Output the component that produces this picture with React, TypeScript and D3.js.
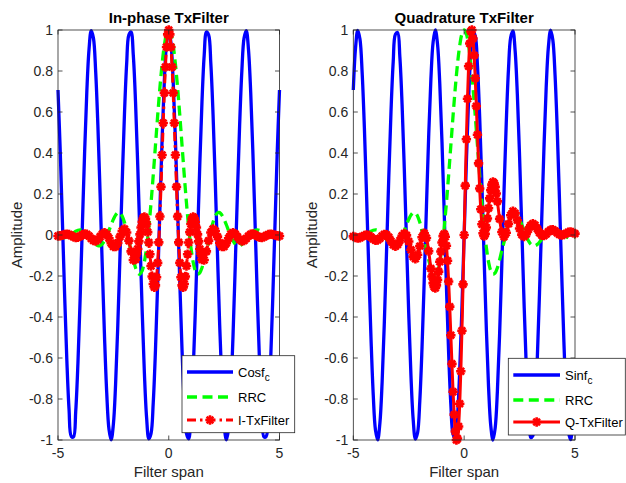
import React from "react";
import * as d3 from "d3";

// ---- data ----
// sample positions of the carrier and RRC curves
const spanT = [
  -5.0, -4.9, -4.8, -4.7, -4.6, -4.5, -4.4, -4.3, -4.2, -4.1,
  -4.0, -3.9, -3.8, -3.7, -3.6, -3.5, -3.4, -3.3, -3.2, -3.1,
  -3.0, -2.9, -2.8, -2.7, -2.6, -2.5, -2.4, -2.3, -2.2, -2.1,
  -2.0, -1.9, -1.8, -1.7, -1.6, -1.5, -1.4, -1.3, -1.2, -1.1,
  -1.0, -0.9, -0.8, -0.7, -0.6, -0.5, -0.4, -0.3, -0.2, -0.1,
  0.0,
  0.1, 0.2, 0.3, 0.4, 0.5, 0.6, 0.7, 0.8, 0.9, 1.0,
  1.1, 1.2, 1.3, 1.4, 1.5, 1.6, 1.7, 1.8, 1.9, 2.0,
  2.1, 2.2, 2.3, 2.4, 2.5, 2.6, 2.7, 2.8, 2.9, 3.0,
  3.1, 3.2, 3.3, 3.4, 3.5, 3.6, 3.7, 3.8, 3.9, 4.0,
  4.1, 4.2, 4.3, 4.4, 4.5, 4.6, 4.7, 4.8, 4.9, 5.0,
];

const cosFc = [
  0.7071, 0.4115, 0.0628, -0.294, -0.6129, -0.8526, -0.9823, -0.9851, -0.8607, -0.6252,
  -0.309, 0.0471, 0.3971, 0.6959, 0.9048, 0.9969, 0.9603, 0.7997, 0.5358, 0.2028,
  -0.1564, -0.4955, -0.7705, -0.9461, -0.9995, -0.9239, -0.729, -0.4399, -0.0941, 0.2639,
  0.5878, 0.8358, 0.9759, 0.99, 0.8763, 0.6494, 0.3387, -0.0157, -0.3681, -0.673,
  -0.891, -0.994, -0.9686, -0.8181, -0.5621, -0.2334, 0.1253, 0.4679, 0.7501, 0.9354,
  1.0,
  0.9354, 0.7501, 0.4679, 0.1253, -0.2334, -0.5621, -0.8181, -0.9686, -0.994, -0.891,
  -0.673, -0.3681, -0.0157, 0.3387, 0.6494, 0.8763, 0.99, 0.9759, 0.8358, 0.5878,
  0.2639, -0.0941, -0.4399, -0.729, -0.9239, -0.9995, -0.9461, -0.7705, -0.4955, -0.1564,
  0.2028, 0.5358, 0.7997, 0.9603, 0.9969, 0.9048, 0.6959, 0.3971, 0.0471, -0.309,
  -0.6252, -0.8607, -0.9851, -0.9823, -0.8526, -0.6129, -0.294, 0.0628, 0.4115, 0.7071,
];

const sinFc = [
  0.7071, 0.9114, 0.998, 0.9558, 0.7902, 0.5225, 0.1874, -0.1719, -0.509, -0.7804,
  -0.9511, -0.9989, -0.9178, -0.7181, -0.4258, -0.0785, 0.279, 0.6004, 0.8443, 0.9792,
  0.9877, 0.8686, 0.6374, 0.3239, -0.0314, -0.3827, -0.6845, -0.898, -0.9956, -0.9646,
  -0.809, -0.549, -0.2181, 0.1409, 0.4818, 0.7604, 0.9409, 0.9999, 0.9298, 0.7396,
  0.454, 0.1097, -0.2487, -0.575, -0.8271, -0.9724, -0.9921, -0.8838, -0.6613, -0.3535,
  0.0,
  0.3535, 0.6613, 0.8838, 0.9921, 0.9724, 0.8271, 0.575, 0.2487, -0.1097, -0.454,
  -0.7396, -0.9298, -0.9999, -0.9409, -0.7604, -0.4818, -0.1409, 0.2181, 0.549, 0.809,
  0.9646, 0.9956, 0.898, 0.6845, 0.3827, 0.0314, -0.3239, -0.6374, -0.8686, -0.9877,
  -0.9792, -0.8443, -0.6004, -0.279, 0.0785, 0.4258, 0.7181, 0.9178, 0.9989, 0.9511,
  0.7804, 0.509, 0.1719, -0.1874, -0.5225, -0.7902, -0.9558, -0.998, -0.9114, -0.7071,
];

const rrcPulse = [
  -0.009, -0.012, -0.014, -0.013, -0.009, -0.003, 0.004, 0.011, 0.018, 0.023,
  0.025, 0.023, 0.016, 0.006, -0.007, -0.021, -0.035, -0.046, -0.052, -0.052,
  -0.044, -0.028, -0.006, 0.021, 0.05, 0.076, 0.097, 0.109, 0.108, 0.092,
  0.062, 0.018, -0.035, -0.0751, -0.1208, -0.1594, -0.1848, -0.1913, -0.1744, -0.1309,
  -0.0601, 0.0368, 0.1563, 0.2923, 0.4372, 0.582, 0.7174, 0.834, 0.924, 0.9806,
  1.0,
  0.9806, 0.924, 0.834, 0.7174, 0.582, 0.4372, 0.2923, 0.1563, 0.0368, -0.0601,
  -0.1309, -0.1744, -0.1913, -0.1848, -0.1594, -0.1208, -0.0751, -0.035, 0.018, 0.062,
  0.092, 0.108, 0.109, 0.097, 0.076, 0.05, 0.021, -0.006, -0.028, -0.044,
  -0.052, -0.052, -0.046, -0.035, -0.021, -0.007, 0.006, 0.016, 0.023, 0.025,
  0.023, 0.018, 0.011, 0.004, -0.003, -0.009, -0.013, -0.014, -0.012, -0.009,
];

// sample positions of the filtered (red) curves: denser around the main lobe
const txT = [
  -5.0, -4.9, -4.8, -4.7, -4.6, -4.5, -4.4, -4.3, -4.2, -4.1,
  -4.0, -3.9, -3.8, -3.7, -3.6, -3.5, -3.4, -3.3, -3.2, -3.1,
  -3.0, -2.9, -2.8, -2.7, -2.6, -2.5, -2.4, -2.3, -2.2, -2.1,
  -2.0, -1.9, -1.8, -1.7, -1.6, -1.5,
  -1.45, -1.4, -1.35, -1.3, -1.25, -1.2, -1.15, -1.1, -1.05, -1.0,
  -0.95, -0.9, -0.85, -0.8, -0.75, -0.7, -0.65, -0.6, -0.55, -0.5,
  -0.45, -0.4, -0.35, -0.3, -0.25, -0.2, -0.15, -0.1, -0.05,
  0.0,
  0.05, 0.1, 0.15, 0.2, 0.25, 0.3, 0.35, 0.4, 0.45, 0.5,
  0.55, 0.6, 0.65, 0.7, 0.75, 0.8, 0.85, 0.9, 0.95, 1.0,
  1.05, 1.1, 1.15, 1.2, 1.25, 1.3, 1.35, 1.4, 1.45,
  1.5, 1.6, 1.7, 1.8, 1.9, 2.0,
  2.1, 2.2, 2.3, 2.4, 2.5, 2.6, 2.7, 2.8, 2.9, 3.0,
  3.1, 3.2, 3.3, 3.4, 3.5, 3.6, 3.7, 3.8, 3.9, 4.0,
  4.1, 4.2, 4.3, 4.4, 4.5, 4.6, 4.7, 4.8, 4.9, 5.0,
];

const iTxFilter = [
  -0.0049, -0.004, -0.0007, 0.003, 0.0045, 0.0023, -0.0029, -0.009, -0.0126, -0.0116,
  -0.0061, 0.0009, 0.0052, 0.0034, -0.0051, -0.017, -0.027, -0.0295, -0.0224, -0.0084,
  0.0055, 0.0112, 0.0037, -0.0159, -0.0397, -0.0565, -0.0568, -0.0383, -0.0081, 0.0195,
  0.0292, 0.0123, -0.0275, -0.08, -0.122, -0.12,
  -0.092, -0.068, -0.031, 0.003, 0.0363, 0.0642, 0.0826, 0.0881, 0.0785, 0.0535,
  0.0142, -0.0366, -0.0938, -0.1514, -0.2022, -0.2391, -0.2554, -0.2458, -0.2063, -0.1358,
  -0.0358, 0.0899, 0.2348, 0.3902, 0.5466, 0.6931, 0.8196, 0.9173, 0.9785,
  1.0,
  0.9785, 0.9173, 0.8196, 0.6931, 0.5466, 0.3902, 0.2348, 0.0899, -0.0358, -0.1358,
  -0.2063, -0.2458, -0.2554, -0.2391, -0.2022, -0.1514, -0.0938, -0.0366, 0.0142, 0.0535,
  0.0785, 0.0881, 0.0826, 0.0642, 0.0363, 0.003, -0.031, -0.068, -0.092,
  -0.12, -0.122, -0.08, -0.0275, 0.0123, 0.0292,
  0.0195, -0.0081, -0.0383, -0.0568, -0.0565, -0.0397, -0.0159, 0.0037, 0.0112, 0.0055,
  -0.0084, -0.0224, -0.0295, -0.027, -0.017, -0.0051, 0.0034, 0.0052, 0.0009, -0.0061,
  -0.0116, -0.0126, -0.009, -0.0029, 0.0023, 0.0045, 0.003, -0.0007, -0.004, -0.0049,
];

const qTxFilter = [
  -0.0067, -0.0119, -0.0146, -0.0131, -0.0078, -0.0019, 0.0008, -0.0021, -0.01, -0.0195,
  -0.0256, -0.0244, -0.0161, -0.0048, 0.0032, 0.0018, -0.0106, -0.0299, -0.0477, -0.0549,
  -0.0468, -0.0265, -0.0041, 0.0074, -0.0017, -0.0316, -0.0721, -0.1057, -0.1161, -0.0963,
  -0.0543, -0.0109, 0.0083, -0.0143, -0.0786, -0.1638,
  -0.2027, -0.235, -0.2534, -0.2585, -0.2457, -0.2191, -0.1785, -0.1308, -0.0808, -0.0369,
  -0.0057, 0.0055, -0.0089, -0.0525, -0.1255, -0.2271, -0.3495, -0.4887, -0.6285, -0.7648,
  -0.8762, -0.9587, -1.0, -0.9929, -0.9339, -0.823, -0.6647, -0.4669, -0.2407,
  0.0,
  0.2407, 0.4669, 0.6647, 0.823, 0.9339, 0.9929, 1.0, 0.9587, 0.8762, 0.7648,
  0.6285, 0.4887, 0.3495, 0.2271, 0.1255, 0.0525, 0.0089, -0.0055, 0.0057, 0.0369,
  0.0808, 0.1308, 0.1785, 0.2191, 0.2457, 0.2585, 0.2534, 0.235, 0.2027,
  0.1638, 0.0786, 0.0143, -0.0083, 0.0109, 0.0543,
  0.0963, 0.1161, 0.1057, 0.0721, 0.0316, 0.0017, -0.0074, 0.0041, 0.0265, 0.0468,
  0.0549, 0.0477, 0.0299, 0.0106, -0.0018, -0.0032, 0.0048, 0.0161, 0.0244, 0.0256,
  0.0195, 0.01, 0.0021, -0.0008, 0.0019, 0.0078, 0.0131, 0.0146, 0.0119, 0.0067,
];

const yTicks = [-1, -0.8, -0.6, -0.4, -0.2, 0, 0.2, 0.4, 0.6, 0.8, 1];
const yTickLabels = ["-1", "-0.8", "-0.6", "-0.4", "-0.2", "0", "0.2", "0.4", "0.6", "0.8", "1"];
const xTicks = [-5, 0, 5];
const xTickLabels = ["-5", "0", "5"];
const panelTitles = ["In-phase TxFilter", "Quadrature TxFilter"];
const carrierNames = ["Cosf", "Sinf"];
const filterNames = ["I-TxFilter", "Q-TxFilter"];
const rrcName = "RRC";
const xLabelText = "Filter span";
const yLabelText = "Amplitude";

// ---- layout / style ----
const W = 626;
const H = 483;
const FONT = "'Liberation Sans', Arial, Helvetica, sans-serif";
const AX = "#262626";
const TOP = 30;
const BOTTOM = 440;
const BLUE = "#0000ff";
const GREEN = "#00ff00";
const RED = "#ff0000";

const panels = [
  {
    left: 58,
    right: 279.5,
    carrier: cosFc,
    filtered: iTxFilter,
    redDash: "9,4,2.5,4",
    legend: { x0: 182, x1: 294.7, y0: 355.7, y1: 432.7, lx0: 187, lx1: 233, tx: 238, rows: [372, 397, 420] },
  },
  {
    left: 353.3,
    right: 575,
    carrier: sinFc,
    filtered: qTxFilter,
    redDash: null as string | null,
    legend: { x0: 508.3, x1: 625.3, y0: 358.3, y1: 435, lx0: 513.3, lx1: 560, tx: 565, rows: [375, 400, 422] },
  },
];

function asterisk(r: number) {
  const d = r * 0.7071;
  return `M${-r},0L${r},0M0,${-r}L0,${r}M${-d},${-d}L${d},${d}M${-d},${d}L${d},${-d}`;
}

const MARK = asterisk(4.7);
const MARK_W = 2.6;

function Panel({ idx }: { idx: number }) {
  const p = panels[idx];
  const x = d3.scaleLinear().domain([-5, 5]).range([p.left, p.right]);
  const y = d3.scaleLinear().domain([-1, 1]).range([BOTTOM, TOP]);
  const mk = (ts: number[], arr: number[]) =>
    d3
      .line<number>()
      .x((_, i) => x(ts[i]))
      .y((v) => y(v))
      .curve(d3.curveCatmullRom.alpha(0.5))(arr) || "";
  const cx = (p.left + p.right) / 2;
  const cy = (TOP + BOTTOM) / 2;
  const tickLen = 4.5;
  const lg = p.legend;
  const mid = (lg.lx0 + lg.lx1) / 2;
  return (
    <g>
      <rect x={p.left} y={TOP} width={p.right - p.left} height={BOTTOM - TOP} fill="#fff" stroke="none" />
      {/* data */}
      <path d={mk(spanT, p.carrier)} fill="none" stroke={BLUE} strokeWidth={3.3} strokeLinejoin="round" />
      <path d={mk(spanT, rrcPulse)} fill="none" stroke={GREEN} strokeWidth={3.3} strokeDasharray="10,5.5" />
      <path
        d={mk(txT, p.filtered)}
        fill="none"
        stroke={RED}
        strokeWidth={3}
        strokeDasharray={p.redDash || undefined}
        strokeLinejoin="round"
      />
      {p.filtered.map((v, i) => (
        <path
          key={i}
          d={MARK}
          transform={`translate(${x(txT[i])},${y(v)})`}
          stroke={RED}
          strokeWidth={MARK_W}
          fill="none"
        />
      ))}
      {/* axes */}
      <rect x={p.left} y={TOP} width={p.right - p.left} height={BOTTOM - TOP} fill="none" stroke={AX} strokeWidth={0.8} />
      {yTicks.map((t, i) => (
        <g key={"y" + i}>
          <line x1={p.left} x2={p.left + tickLen} y1={y(t)} y2={y(t)} stroke={AX} strokeWidth={0.8} />
          <line x1={p.right} x2={p.right - tickLen} y1={y(t)} y2={y(t)} stroke={AX} strokeWidth={0.8} />
          <text x={p.left - 5} y={y(t) + 5} textAnchor="end" fontSize={14} fill={AX} fontFamily={FONT}>
            {yTickLabels[i]}
          </text>
        </g>
      ))}
      {xTicks.map((t, i) => (
        <g key={"x" + i}>
          <line x1={x(t)} x2={x(t)} y1={BOTTOM} y2={BOTTOM - tickLen} stroke={AX} strokeWidth={0.8} />
          <line x1={x(t)} x2={x(t)} y1={TOP} y2={TOP + tickLen} stroke={AX} strokeWidth={0.8} />
          <text x={x(t)} y={458} textAnchor="middle" fontSize={14} fill={AX} fontFamily={FONT}>
            {xTickLabels[i]}
          </text>
        </g>
      ))}
      <text x={cx} y={22.5} textAnchor="middle" fontSize={15} fontWeight="bold" fill="#000" fontFamily={FONT}>
        {panelTitles[idx]}
      </text>
      <text x={cx} y={477} textAnchor="middle" fontSize={15} fill={AX} fontFamily={FONT}>
        {xLabelText}
      </text>
      <text
        transform={`translate(${p.left - 36},${cy}) rotate(-90)`}
        textAnchor="middle"
        fontSize={15}
        fill={AX}
        fontFamily={FONT}
      >
        {yLabelText}
      </text>
      {/* legend */}
      <rect x={lg.x0} y={lg.y0} width={lg.x1 - lg.x0} height={lg.y1 - lg.y0} fill="#fff" stroke={AX} strokeWidth={0.8} />
      <line x1={lg.lx0} x2={lg.lx1} y1={lg.rows[0]} y2={lg.rows[0]} stroke={BLUE} strokeWidth={3.3} />
      <text x={lg.tx} y={lg.rows[0] + 5} fontSize={13} fill="#000" fontFamily={FONT}>
        {carrierNames[idx]}
        <tspan dy={4} fontSize={10}>
          c
        </tspan>
      </text>
      <line x1={lg.lx0} x2={lg.lx1} y1={lg.rows[1]} y2={lg.rows[1]} stroke={GREEN} strokeWidth={3.3} strokeDasharray="10,5.5" />
      <text x={lg.tx} y={lg.rows[1] + 5} fontSize={13} fill="#000" fontFamily={FONT}>
        {rrcName}
      </text>
      <line
        x1={lg.lx0}
        x2={lg.lx1}
        y1={lg.rows[2]}
        y2={lg.rows[2]}
        stroke={RED}
        strokeWidth={3}
        strokeDasharray={p.redDash || undefined}
      />
      <path d={MARK} transform={`translate(${mid},${lg.rows[2]})`} stroke={RED} strokeWidth={MARK_W} fill="none" />
      <text x={lg.tx} y={lg.rows[2] + 5} fontSize={13} fill="#000" fontFamily={FONT}>
        {filterNames[idx]}
      </text>
    </g>
  );
}

export default function App() {
  return (
    <svg
      width={W}
      height={H}
      viewBox={`0 0 ${W} ${H}`}
      style={{ position: "absolute", left: 0, top: 0, background: "#fff" }}
    >
      <rect x={0} y={0} width={W} height={H} fill="#fff" />
      <Panel idx={0} />
      <Panel idx={1} />
    </svg>
  );
}
